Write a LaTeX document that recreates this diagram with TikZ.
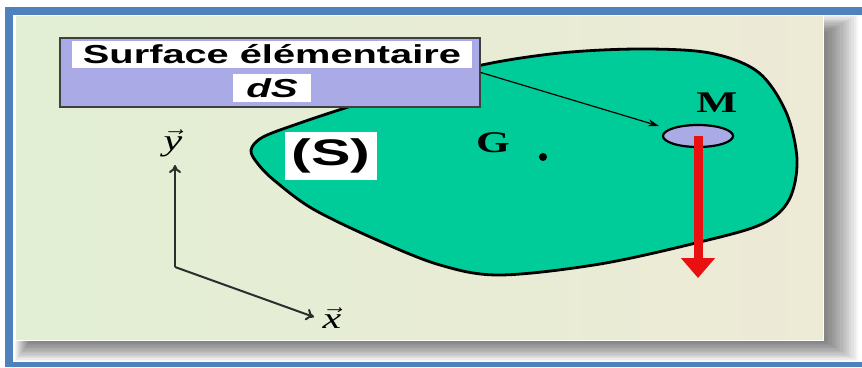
\documentclass[tikz,border=0pt]{standalone}
\usepackage{fontspec}
\setmainfont{Liberation Serif}
\newfontfamily\arialf{Liberation Sans}
\usetikzlibrary{arrows.meta,shapes.geometric,calc}
\definecolor{frameblue}{RGB}{79,129,189}
\definecolor{panelL}{RGB}{226,239,212}
\definecolor{panelR}{RGB}{237,234,214}
\definecolor{shapegreen}{RGB}{0,204,153}
\definecolor{lav}{RGB}{170,170,230}
\definecolor{arrred}{RGB}{232,16,16}
\definecolor{axisgray}{RGB}{45,45,45}
\tikzset{
  labelbox/.style={draw=black!75, line width=1.4pt, fill=lav, inner sep=0pt},
  whitetag/.style={fill=white, inner sep=0pt},
  serifbold/.style={font=\bfseries\fontsize{30}{30}\selectfont},
  axisline/.style={draw=axisgray, line width=2pt, -{To[length=8pt,width=12pt]}},
  veclabel/.style={font=\itshape\fontsize{30}{30}\selectfont, inner sep=0pt},
}
\begin{document}
\begin{tikzpicture}[x=1pt,y=-1pt]
\useasboundingbox (0,0) rectangle (862,367);
\fill[white] (0,0) rectangle (862,367);
% blue frame
\fill[frameblue] (5,7) rectangle (862,15);
\fill[frameblue] (5,7) rectangle (13,367);
\fill[frameblue] (5,362) rectangle (862,367);
% shadow
\foreach \i in {0,...,14}{
  \fill[black, opacity=0.038] (15+\i,15+\i*1.2) rectangle (858-\i*2.2,361-\i*1.3);
}
% panel
\shade[left color=panelL, right color=panelR] (15,15) rectangle (823,340);
\draw[white, line width=0.8pt] (15,15) rectangle (823,340);
% green surface
\draw[line width=2.8pt, fill=shapegreen] plot[smooth cycle, tension=0.55] coordinates {
 (251,150) (263,137) (300,123) (345,108) (420,84) (482,65) (560,53) (640,49) (710,53)
 (758,72) (786,112) (797,160) (789,200) (762,224) (700,242) (600,264)
 (500,275) (440,265) (377,240) (313,209) (275,181) (258,164)};
% label box
\node[labelbox, minimum width=420pt, minimum height=69pt] (box) at (270,72.5) {};
\node[whitetag, minimum width=400pt, minimum height=27pt] (title) at (272,54)
  {\scalebox{1.53}[1]{\arialf\bfseries\fontsize{26}{26}\selectfont Surface élémentaire}};
\node[whitetag, minimum width=78pt, minimum height=28pt] (ds) at (272,88)
  {\scalebox{1.55}[1]{\arialf\bfseries\itshape\fontsize{26}{26}\selectfont dS}};
% (S)
\node[whitetag, minimum width=92pt, minimum height=48pt] (S) at (331,156)
  {\scalebox{1.6}[1]{\arialf\bfseries\fontsize{37}{37}\selectfont (S)}};
% G and point
\node[serifbold] (G) at (493,143) {\scalebox{1.45}[1]{G}};
\fill (543,157) circle (4pt);
% M
\node[serifbold] (Mlab) at (717,103) {\scalebox{1.45}[1]{M}};
\node[ellipse, draw=black, line width=2.2pt, fill=lav, minimum width=70pt, minimum height=22pt, inner sep=0pt] (Mell) at (698,136) {};
% thin arrow
\coordinate (tipM) at (659,126);
\draw[line width=1.2pt, -{Stealth[length=11pt,width=7pt]}] (box.east) -- (tipM);
% red arrow
\coordinate (force) at (698,278);
\draw[arrred, line width=9pt, -{Triangle[length=20pt,width=33pt]}] (Mell.center) -- (force);
% axes
\coordinate (O) at (175,267);
\coordinate (ytip) at (175,165);
\coordinate (xtip) at (314,317);
\draw[axisline] (O) -- (ytip);
\draw[axisline] (O) -- (xtip);
\node[veclabel] (ylab) at (173,143) {\scalebox{1.4}[1]{$\vec{\hbox{\itshape y}}$}};
\node[veclabel] (xlab) at (332,318) {\scalebox{1.4}[1]{$\vec{\hbox{\itshape x}}$}};
\end{tikzpicture}
\end{document}
